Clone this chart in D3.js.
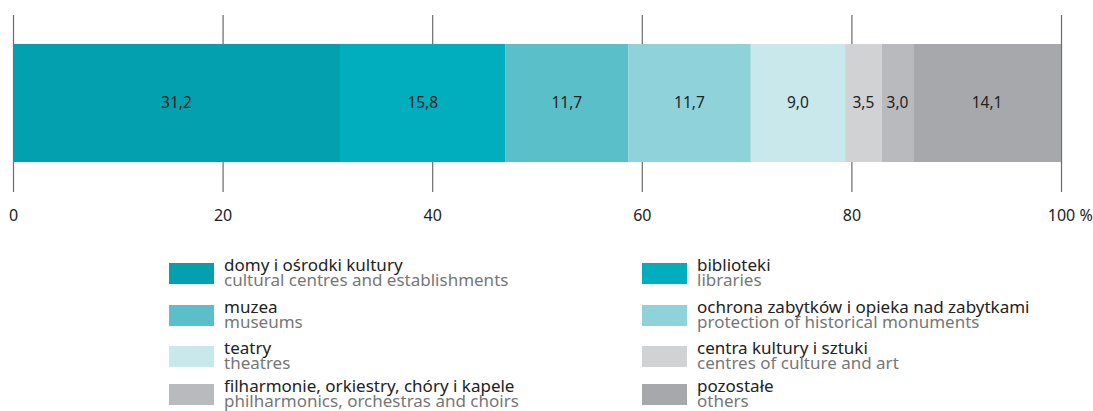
<!DOCTYPE html>
<html>
<head>
<meta charset="utf-8">
<script src="https://cdn.jsdelivr.net/npm/d3@7"></script>
<style>
	body { margin: 0; background: #fff; }
	text { font-family: 'Noto Sans', sans-serif; }
</style>
</head>
<body>
<div id="chart"></div>
<script>
/*globals d3*/
'use strict';

// data
const categoriesPl = ['domy i ośrodki kultury', 'biblioteki', 'muzea', 'ochrona zabytków i opieka nad zabytkami',
	'teatry', 'centra kultury i sztuki', 'filharmonie, orkiestry, chóry i kapele', 'pozostałe'];
const categoriesEn = ['cultural centres and establishments', 'libraries', 'museums', 'protection of historical monuments',
	'theatres', 'centres of culture and art', 'philharmonics, orchestras and choirs', 'others'];
const shares = [31.2, 15.8, 11.7, 11.7, 9.0, 3.5, 3.0, 14.1];
const tickValues = [0, 20, 40, 60, 80, 100];
const colors = ['#03a1b0', '#00aebe', '#5bbfca', '#8fd2da', '#c8e8eb', '#d1d2d4', '#b9babe', '#a7a8ac'];

const width = 1093, height = 411;
const barTop = 44, barBottom = 162;
const gridTop = 15, gridBottom = 192;

const svg = d3.select('#chart').append('svg')
	.attr('width', width)
	.attr('height', height);

const x = d3.scaleLinear().domain([0, 100]).range([13, 1061]);

// grid lines (drawn behind the bar)
const axis = svg.append('g')
	.attr('transform', 'translate(0,' + gridBottom + ')')
	.call(d3.axisBottom(x).tickValues(tickValues).tickSize(-(gridBottom - gridTop)).tickSizeOuter(0)
		.tickFormat(d => d));
axis.select('.domain').remove();
axis.selectAll('.tick line').attr('stroke', '#6b6b6b').attr('stroke-width', 1.2);
axis.selectAll('.tick text')
	.attr('y', 18)
	.attr('fill', '#222')
	.style('font-size', '16px');
// '100 %' keeps the number centred on its tick
axis.selectAll('.tick text').filter(d => d === 100).each(function () {
	const w = this.getComputedTextLength();
	d3.select(this).text('100 %').attr('text-anchor', 'start').attr('x', -w / 2);
});

// stacked segments
let acc = 0;
const segs = shares.map((v, i) => {
	const s = { i: i, v: v, x0: acc, x1: acc + v };
	acc += v;
	return s;
});

svg.append('g').selectAll('rect')
	.data(segs)
	.join('rect')
	.attr('x', d => x(d.x0))
	.attr('width', d => x(d.x1) - x(d.x0))
	.attr('y', barTop)
	.attr('height', barBottom - barTop)
	.attr('fill', d => colors[d.i]);

svg.append('g').selectAll('text')
	.data(segs)
	.join('text')
	.attr('x', d => (x(d.x0) + x(d.x1)) / 2)
	.attr('y', 108)
	.attr('text-anchor', 'middle')
	.attr('fill', '#222')
	.style('font-size', '15.5px')
	.text(d => d3.format('.1f')(d.v).replace('.', ','));

// legend
const rowY = [263, 305, 346, 384];
const colX = [169, 642];
const legend = svg.append('g').selectAll('g')
	.data(categoriesPl.map((c, i) => i))
	.join('g')
	.attr('transform', i => 'translate(' + colX[i % 2] + ',' + rowY[Math.floor(i / 2)] + ')');

legend.append('rect')
	.attr('width', 45)
	.attr('height', 21)
	.attr('fill', i => colors[i]);
legend.append('text')
	.attr('x', 55)
	.attr('y', 7.7)
	.attr('fill', '#222')
	.style('font-size', '17px')
	.text(i => categoriesPl[i]);
legend.append('text')
	.attr('x', 55)
	.attr('y', 23.2)
	.attr('fill', '#777')
	.style('font-size', '17px')
	.text(i => categoriesEn[i]);
</script>
</body>
</html>
